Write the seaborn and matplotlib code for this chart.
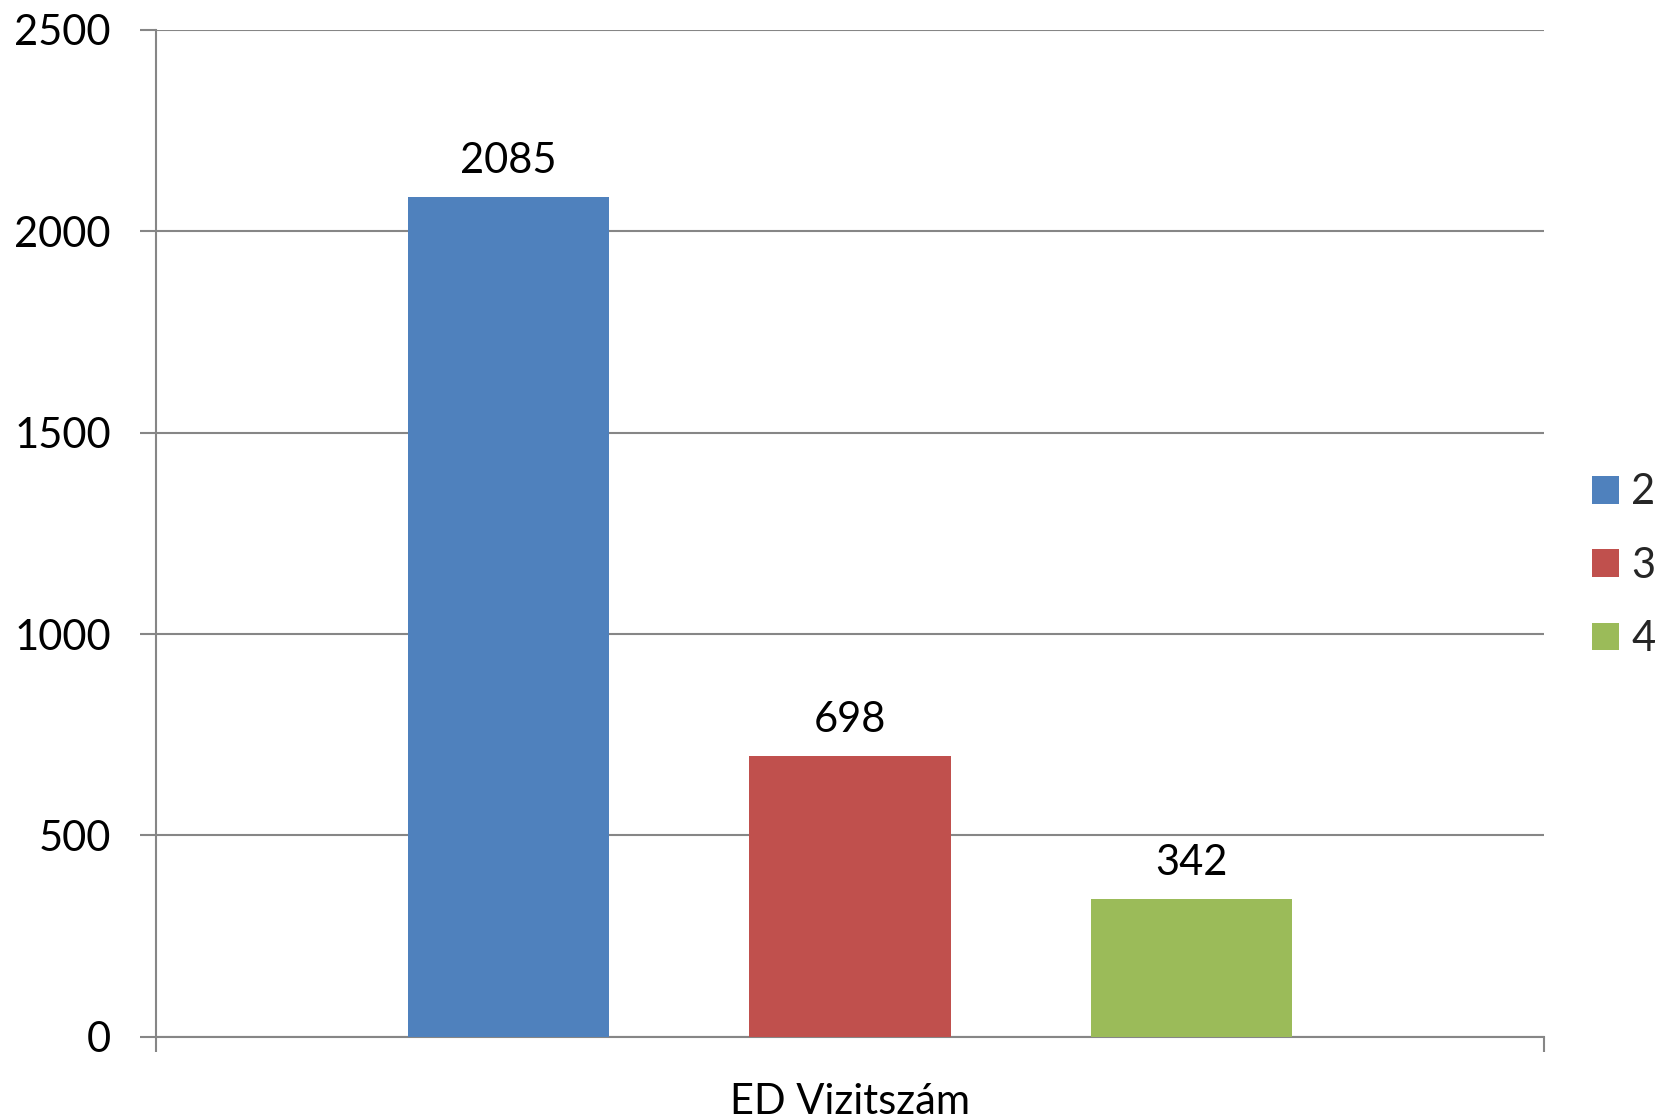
import matplotlib
matplotlib.use("Agg")
import matplotlib.pyplot as plt
import seaborn as sns
import pandas as pd
from matplotlib.patches import Patch

series = ["2", "3", "4"]
values = [2085, 698, 342]
category = "ED Vizitszám"
yticks = [0, 500, 1000, 1500, 2000, 2500]
colors = ["#4F81BD", "#C0504D", "#9BBB59"]

sns.set_theme(style="white")
plt.rcParams["font.family"] = ["Lato", "DejaVu Sans"]

gray = "#868686"
fig = plt.figure(figsize=(16.64, 11.19), dpi=100)
ax = fig.add_axes([0.09375, 0.0733, 0.8340, 0.9003])

df = pd.DataFrame({"series": series, "value": values})
sns.barplot(data=df, x="series", y="value", hue="series", palette=colors,
            width=0.59, saturation=1, legend=False, ax=ax, zorder=3,
            linewidth=0, edgecolor="none")

ax.set_xlim(-1.033, 3.033)
ax.set_ylim(0, 2500)
ax.set_yticks(yticks)
ax.set_yticklabels([str(t) for t in yticks], fontsize=30, color="black")
ax.yaxis.grid(True, color=gray, linewidth=1.5, zorder=0)
ax.set_axisbelow(True)

ax.set_xticks([-1.033, 3.033])
ax.set_xticklabels(["", ""])
ax.tick_params(axis="x", bottom=True, length=11, width=1.5, color=gray, direction="out")
ax.tick_params(axis="y", left=True, length=11.5, width=1.5, color=gray, direction="out", pad=21)
ax.set_xlabel("")
ax.set_ylabel("")

for s in ["top", "right"]:
    ax.spines[s].set_visible(False)
for s in ["left", "bottom"]:
    ax.spines[s].set_color(gray)
    ax.spines[s].set_linewidth(1.5)

for cont in ax.containers:
    ax.bar_label(cont, fmt="%d", padding=12, fontsize=30, color="black")

ax.text(0.5, -0.083, category, transform=ax.transAxes, ha="center", va="bottom",
        fontsize=30, color="black")

handles = [Patch(facecolor=c, edgecolor="none") for c in colors]
fig.legend(handles, series, loc="center left", bbox_to_anchor=(0.9565, 0.4945),
           frameon=False, fontsize=30, handlelength=0.65, handleheight=0.65,
           handletextpad=0.3, labelspacing=0.85, borderpad=0, borderaxespad=0)

fig.savefig("out.png", dpi=100)
